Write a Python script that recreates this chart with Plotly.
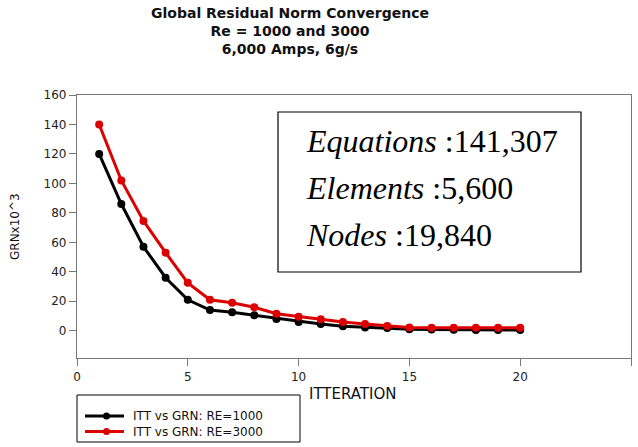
import plotly.graph_objects as go

# Iteration number and global residual norm (x10^3) for the two Reynolds numbers
iterations = list(range(1, 21))
grn_re1000 = [120, 86, 57, 36, 21, 14, 12.5, 10.5, 8, 6, 4.5, 3, 2.2, 1.8, 1, 0.8, 0.6, 0.5, 0.5, 0.5]
grn_re3000 = [140, 102, 74.5, 53, 32.5, 21, 19, 16, 11.5, 9.5, 7.8, 6, 4.5, 3.2, 2.2, 2, 2, 2, 2, 2]

series_names = ["ITT vs GRN: RE=1000", "ITT vs GRN: RE=3000"]
series_colors = ["#000000", "#dd0000"]

title_lines = ["Global Residual Norm Convergence", "Re = 1000 and 3000", "6,000 Amps, 6g/s"]
mesh_labels = ["Equations", "Elements", "Nodes"]
mesh_values = ["141,307", "5,600", "19,840"]

x_ticks = [0, 5, 10, 15, 20, 25]
y_ticks = [0, 20, 40, 60, 80, 100, 120, 140, 160]

W, H = 638, 447
L, R, T, B = 77, 7, 95, 89
PW, PH = W - L - R, H - T - B


def px_x(p):
    return (p - L) / PW


def px_y(p):
    return (H - B - p) / PH


fig = go.Figure()
for ys, name, col in zip([grn_re1000, grn_re3000], series_names, series_colors):
    fig.add_trace(go.Scatter(
        x=iterations, y=ys, mode="lines+markers", name=name,
        line=dict(color=col, width=3), marker=dict(color=col, size=8),
        showlegend=False,
    ))

annotations = []
shapes = []

# three-line bold title
annotations.append(dict(
    text="<br>".join(f"<b>{line}</b>" for line in title_lines),
    xref="paper", yref="paper", x=px_x(290), y=px_y(31),
    xanchor="center", yanchor="middle", align="center", showarrow=False,
    font=dict(family="DejaVu Sans", size=14, color="#111"),
))

# mesh statistics box
shapes.append(dict(type="rect", xref="paper", yref="paper",
                   x0=px_x(278), x1=px_x(581), y0=px_y(112), y1=px_y(272),
                   line=dict(color="#000", width=1.2), fillcolor="white"))
for i, (lab, val) in enumerate(zip(mesh_labels, mesh_values)):
    annotations.append(dict(
        text=f"<i>{lab}</i> :{val}", xref="paper", yref="paper",
        x=px_x(304), y=px_y(141 + 47 * i), xanchor="left", yanchor="middle",
        showarrow=False, font=dict(family="Liberation Serif", size=32, color="#000"),
    ))

# axis titles
annotations.append(dict(
    text="ITTERATION", xref="paper", yref="paper", x=px_x(353), y=px_y(394),
    xanchor="center", yanchor="middle", showarrow=False,
    font=dict(family="DejaVu Sans", size=15, color="#111"),
))
annotations.append(dict(
    text="GRNx10^3", xref="paper", yref="paper", x=px_x(15), y=px_y(227),
    xanchor="center", yanchor="middle", textangle=-90, showarrow=False,
    font=dict(family="DejaVu Sans", size=12, color="#111"),
))

# legend drawn below the axes
LEG_FONT = 12
row_gap = LEG_FONT * 1.3
row0 = 416
shapes.append(dict(type="rect", xref="paper", yref="paper",
                   x0=px_x(77), x1=px_x(300), y0=px_y(395), y1=px_y(442),
                   line=dict(color="#000", width=1), fillcolor="white"))
for i, col in enumerate(series_colors):
    yc = row0 + row_gap * i
    shapes.append(dict(type="line", xref="paper", yref="paper",
                       x0=px_x(85), x1=px_x(124), y0=px_y(yc), y1=px_y(yc),
                       line=dict(color=col, width=3)))
    shapes.append(dict(type="circle", xref="paper", yref="paper",
                       x0=px_x(103), x1=px_x(110), y0=px_y(yc - 3.5), y1=px_y(yc + 3.5),
                       line=dict(color=col, width=0), fillcolor=col))
annotations.append(dict(
    text="<br>".join(series_names), xref="paper", yref="paper",
    x=px_x(131), y=px_y(row0 + row_gap / 2), align="left",
    xanchor="left", yanchor="middle", showarrow=False,
    font=dict(family="DejaVu Sans", size=LEG_FONT, color="#111"),
))

axis_style = dict(
    showline=True, linecolor="#777", linewidth=1.2, mirror=True,
    ticks="outside", ticklen=7, tickcolor="#777", tickwidth=1,
    showgrid=False, zeroline=False,
    tickfont=dict(family="DejaVu Sans", size=12, color="#222"),
)

fig.update_layout(
    width=W, height=H, margin=dict(l=L, r=R, t=T, b=B),
    paper_bgcolor="white", plot_bgcolor="white",
    xaxis=dict(range=[0, 25], tickvals=x_ticks, **axis_style),
    yaxis=dict(range=[-18.5, 160], tickvals=y_ticks, **axis_style),
    annotations=annotations, shapes=shapes, showlegend=False,
)

fig.write_html("out.html")
